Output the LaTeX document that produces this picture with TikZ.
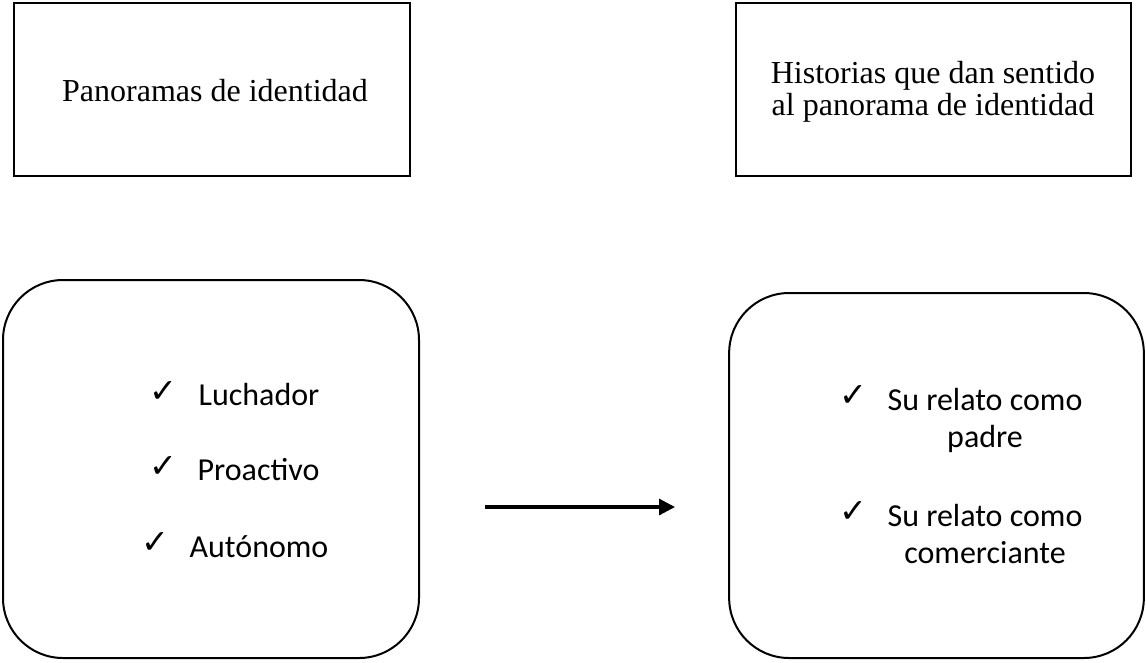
\documentclass[tikz,border=0pt]{standalone}
\usepackage{fontspec}
\setmainfont{Liberation Serif}
\newfontfamily\calfont{Carlito}
\newfontfamily\dvfont{DejaVu Sans}
\usetikzlibrary{arrows.meta}
\begin{document}
\begin{tikzpicture}[x=0.75pt,y=-0.75pt,
  sqbox/.style={draw,line width=1.9pt,inner sep=0pt,minimum width=#1},
  rbox/.style={draw,line width=1.5pt,rounded corners=45pt,inner sep=0pt},
  serif/.style={font=\fontsize{24}{24}\selectfont,inner sep=0pt},
  item/.style={font=\calfont\fontsize{24}{27.75}\selectfont,inner sep=0pt,align=center},
  tick/.style={font=\dvfont\fontsize{25}{25}\selectfont,inner sep=0pt},
  conn/.style={line width=2.4pt,-{Triangle[length=12pt,width=12pt]}}]
\useasboundingbox (0,0) rectangle (1146,662);
% top boxes
\node[sqbox=297pt,minimum height=129.75pt] (pan) at (212,89.5) {};
\node[sqbox=296.25pt,minimum height=129.75pt] (his) at (933.5,89.5) {};
\node[serif,anchor=base] (panT) at (215,101.7) {Panoramas de identidad};
\node[serif,anchor=base,align=center] (hisT) at (933,115) {Historias que dan sentido\\[0pt]al panorama de identidad};
% bottom rounded boxes
\node[rbox,minimum width=312pt,minimum height=283.5pt] (left) at (211,469) {};
\node[rbox,minimum width=311pt,minimum height=273.75pt] (right) at (936.5,475.5) {};
% left items
\node[tick] (c1) at (163,392) {✓};
\node[item,anchor=base] (i1) at (259,405) {Luchador};
\node[tick] (c2) at (163,467) {✓};
\node[item,anchor=base] (i2) at (258.5,480) {Proactivo};
\node[tick] (c3) at (155,543) {✓};
\node[item,anchor=base] (i3) at (259,557) {Autónomo};
% right items
\node[tick] (c4) at (853,395.5) {✓};
\node[item,anchor=base] (i4) at (985,447) {Su relato como\\padre};
\node[tick] (c5) at (853,512) {✓};
\node[item,anchor=base] (i5) at (985,563) {Su relato como\\comerciante};
% arrow
\coordinate (aS) at (485,507);
\coordinate (aE) at (675,507);
\draw[conn] (aS) -- (aE);
\end{tikzpicture}
\end{document}
